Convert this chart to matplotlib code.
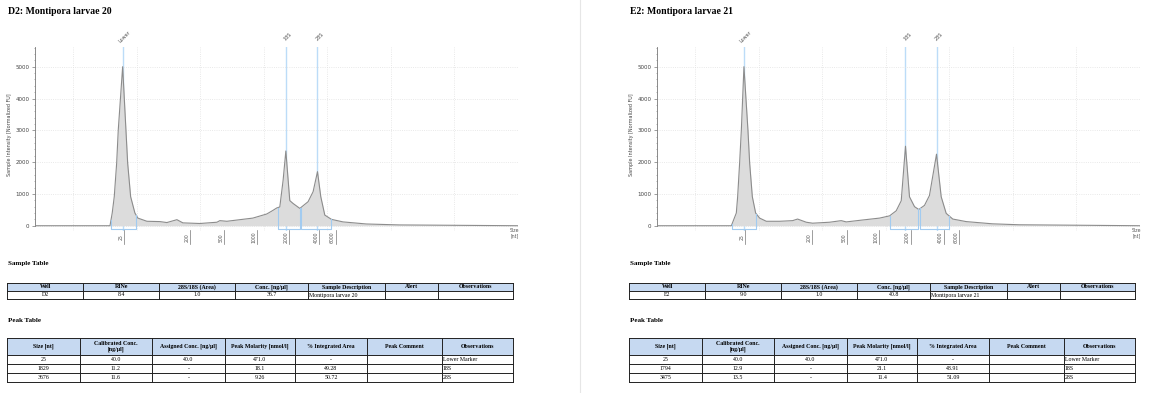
import numpy as np
import matplotlib
matplotlib.use("Agg")
import matplotlib.pyplot as plt
from matplotlib.patches import Rectangle

W, H = 1167, 393

# electropherogram traces: migration position (grid units) vs intensity [normalized FU]
d2_pos = [-6, 5.8, 6.15, 6.47, 6.85, 7.1, 7.79, 8.31, 8.58, 9.05,
          9.72, 10.19, 11.61, 13.65, 14.75, 16.33, 17.27, 19.94, 22.62, 23.09,
          24.19, 26.23, 28.28, 30.48, 31.42, 32.05, 32.52, 33.04, 33.47, 34.09,
          34.61, 35.67, 36.97, 37.76, 38.45, 38.97, 39.6, 40.65, 42.48, 46.15,
          51.39, 70]
d2_int = [0, 0, 400, 912, 1970, 3006, 5000, 3006, 1970, 912,
          400, 240, 140, 130, 100, 190, 90, 70, 110, 160,
          140, 190, 240, 370, 480, 560, 590, 1430, 2350, 790,
          700, 545, 755, 1070, 1700, 910, 335, 200, 120, 55,
          25, 0]

e2_pos = [-6, 5.7, 6.48, 6.69, 7.0, 7.27, 7.68, 8.31, 8.58, 9.0,
          9.52, 10.15, 11.2, 13.29, 15.34, 16.12, 17.49, 18.48, 21.15, 22.99,
          23.78, 26.34, 29.02, 30.59, 31.64, 32.43, 33.1, 33.73, 34.52, 35.19,
          36.09, 36.87, 37.98, 38.72, 39.5, 40.54, 42.65, 46.78, 51.03, 70]
e2_int = [0, 0, 400, 912, 1970, 3006, 5000, 3006, 1970, 912,
          400, 240, 140, 140, 160, 210, 110, 80, 110, 160,
          120, 180, 240, 310, 470, 785, 2500, 910, 600, 510,
          640, 950, 2250, 910, 390, 210, 130, 60, 30, 0]

# size ladder labels and where they sit on the migration axis
ladder_sizes = ["25", "200", "500", "1000", "2000", "4000", "6000"]
d2_ladder_pos = [7.68, 18.06, 23.4, 28.6, 33.6, 38.3, 40.9]
e2_ladder_pos = [7.52, 18.0, 23.5, 28.5, 33.5, 38.7, 41.1]

marker_names = ["Lower", "18S", "28S"]
d2_marker_pos = [7.79, 33.47, 38.45]
e2_marker_pos = [7.68, 33.10, 37.98]

d2_regions = [(5.95, 9.88), (32.16, 35.67), (35.78, 40.65)]
e2_regions = [(5.79, 9.63), (30.59, 35.04), (35.42, 40.02)]

# tables
sample_header = ["Well", "RINe", "28S/18S (Area)", "Conc. [ng/µl]",
                 "Sample Description", "Alert", "Observations"]
d2_sample_row = ["D2", "8.4", "1.0", "36.7", "Montipora larvae 20", "", ""]
e2_sample_row = ["E2", "9.0", "1.0", "40.8", "Montipora larvae 21", "", ""]

peak_header = ["Size [nt]", "Calibrated Conc.\n[ng/µl]", "Assigned Conc. [ng/µl]",
               "Peak Molarity [nmol/l]", "% Integrated Area", "Peak Comment",
               "Observations"]
d2_peak_rows = [["25", "40.0", "40.0", "471.0", "-", "", "Lower Marker"],
                ["1829", "11.2", "-", "18.1", "49.28", "", "18S"],
                ["3676", "11.6", "-", "9.26", "50.72", "", "28S"]]
e2_peak_rows = [["25", "40.0", "40.0", "471.0", "-", "", "Lower Marker"],
                ["1794", "12.9", "-", "21.1", "48.91", "", "18S"],
                ["3475", "13.5", "-", "11.4", "51.09", "", "28S"]]

SERIF = "Liberation Serif"
HEAD_BLUE = "#c6d9f1"


def px_axes(fig, x0, y0, x1, y1):
    return fig.add_axes([x0 / W, 1 - y1 / H, (x1 - x0) / W, (y1 - y0) / H])


def draw_trace(ax, pos, inten, marker_pos, regions, ladder_pos):
    ax.set_xlim(-6, 70)
    ax.set_ylim(-150, 5620)
    for sp in ["top", "right", "bottom"]:
        ax.spines[sp].set_visible(False)
    ax.spines["left"].set_bounds(0, 5620)
    ax.spines["left"].set_color("#777777")
    ax.spines["left"].set_linewidth(0.6)
    ax.set_xticks(np.arange(0, 71, 10))
    ax.tick_params(axis="x", length=0, labelbottom=False)
    ax.set_yticks(np.arange(0, 5001, 1000))
    ax.set_yticks(np.arange(0, 5601, 200), minor=True)
    ax.tick_params(axis="y", which="major", length=2, width=0.5, color="#777777",
                   labelsize=4, labelcolor="#444444", pad=2)
    ax.tick_params(axis="y", which="minor", length=1, width=0.4, color="#777777")
    ax.grid(True, which="major", color="#e2e2e2", linestyle=":", linewidth=0.6)
    ax.set_ylabel("Sample Intensity [Normalized FU]", fontsize=3.5, color="#444444")
    ax.yaxis.set_label_coords(-0.048, 0.52)

    for m, name in zip(marker_pos, marker_names):
        ax.axvline(m, color="#bcdcf8", lw=1.0, zorder=1)
        ax.text(m + 0.3, 5935, name, rotation=45, fontsize=3.5, color="#555555",
                ha="center", va="center", clip_on=False)

    ax.fill_between(pos, inten, 0, color="#dcdcdc", zorder=2, lw=0)
    ax.plot(pos, inten, color="#8c8c8c", lw=0.8, zorder=3)

    for lo, hi in regions:
        ylo = np.interp(lo, pos, inten)
        yhi = np.interp(hi, pos, inten)
        ax.plot([lo, lo, hi, hi], [ylo, -100, -100, yhi], color="#a2cbf0",
                lw=0.8, zorder=4, clip_on=False)

    for p, s in zip(ladder_pos, ladder_sizes):
        ax.text(p - 0.1, -370, s, rotation=90, fontsize=3.3, color="#555555",
                ha="center", va="center", clip_on=False)
        ax.plot([p + 0.4, p + 0.4], [-130, -560], color="#777777", lw=0.5,
                clip_on=False)
    ax.text(69.5, -240, "Size\n[nt]", fontsize=3.3, color="#555555",
            ha="center", va="center", clip_on=False, linespacing=1.2)


def draw_table(ov, col_edges, row_edges, header, rows, left_cols):
    y_top = row_edges[0]
    ov.add_patch(Rectangle((col_edges[0], y_top), col_edges[-1] - col_edges[0],
                           row_edges[1] - y_top, facecolor=HEAD_BLUE, edgecolor="none"))
    for y in row_edges:
        ov.plot([col_edges[0], col_edges[-1]], [y, y], color="#222222", lw=0.7)
    for x in col_edges:
        ov.plot([x, x], [row_edges[0], row_edges[-1]], color="#222222", lw=0.7)
    for i, lab in enumerate(header):
        xc = (col_edges[i] + col_edges[i + 1]) / 2
        yc = (row_edges[0] + row_edges[1]) / 2
        ov.text(xc, yc, lab, fontsize=4.2, fontfamily=SERIF, fontweight="bold",
                ha="center", va="center", linespacing=1.0)
    for r, row in enumerate(rows):
        yc = (row_edges[r + 1] + row_edges[r + 2]) / 2
        for i, val in enumerate(row):
            if i in left_cols:
                ov.text(col_edges[i] + 1, yc, val, fontsize=4.2, fontfamily=SERIF,
                        ha="left", va="center")
            else:
                ov.text((col_edges[i] + col_edges[i + 1]) / 2, yc, val, fontsize=4.2,
                        fontfamily=SERIF, ha="center", va="center")


fig = plt.figure(figsize=(W / 100, H / 100), dpi=100)

ax1 = px_axes(fig, 35, 47, 518, 230.5)
draw_trace(ax1, d2_pos, d2_int, d2_marker_pos, d2_regions, d2_ladder_pos)
ax2 = px_axes(fig, 657, 47, 1140, 230.5)
draw_trace(ax2, e2_pos, e2_int, e2_marker_pos, e2_regions, e2_ladder_pos)

ov = fig.add_axes([0, 0, 1, 1])
ov.set_xlim(0, W)
ov.set_ylim(H, 0)
ov.axis("off")
ov.set_zorder(5)

ov.plot([580, 580], [0, H], color="#e6e6e6", lw=0.8)

sample_cols = [7.3, 83.3, 159.3, 235, 308.3, 385, 438.3, 513.3]
peak_cols = [7.3, 80, 151.7, 225, 295, 366.7, 441.7, 512.7]
sample_rows_y = [283, 291, 299]
peak_rows_y = [338, 355, 364, 373, 382]

for dx, title, srow, prows in [(0, "D2: Montipora larvae 20", d2_sample_row, d2_peak_rows),
                               (622, "E2: Montipora larvae 21", e2_sample_row, e2_peak_rows)]:
    ov.text(8 + dx, 11, title, fontsize=7.0, fontfamily=SERIF, fontweight="bold",
            ha="left", va="center")
    ov.text(8 + dx, 264, "Sample Table", fontsize=5, fontfamily=SERIF,
            fontweight="bold", ha="left", va="center")
    ov.text(8 + dx, 320, "Peak Table", fontsize=5, fontfamily=SERIF,
            fontweight="bold", ha="left", va="center")
    draw_table(ov, [c + dx for c in sample_cols], sample_rows_y,
               sample_header, [srow], left_cols=[4])
    draw_table(ov, [c + dx for c in peak_cols], peak_rows_y,
               peak_header, prows, left_cols=[6])

fig.savefig("out.png", dpi=100)
